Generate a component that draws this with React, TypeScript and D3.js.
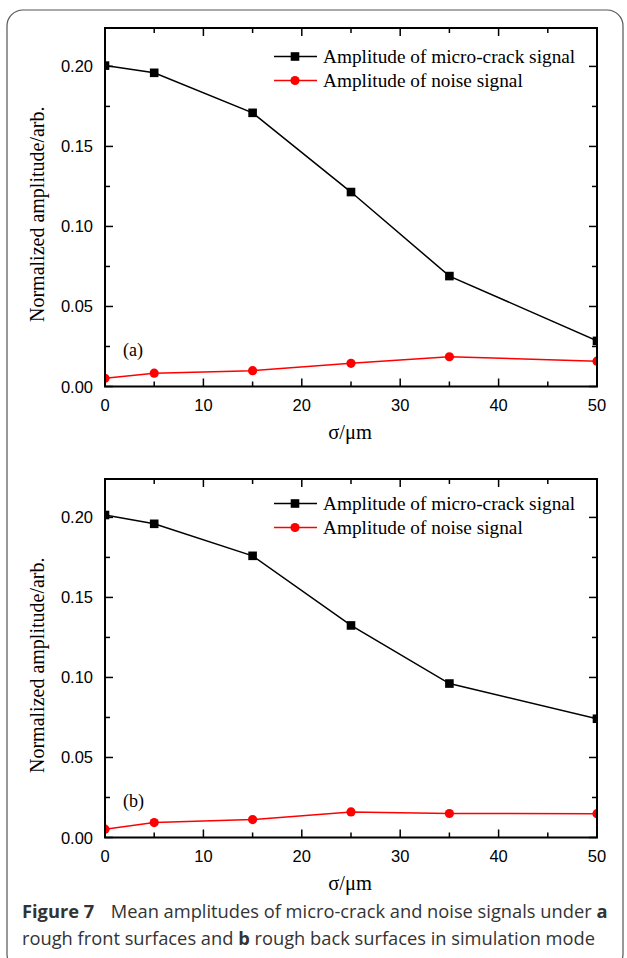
import React from "react";
import * as d3 from "d3";

const sigma = [0, 5, 15, 25, 35, 50];
const crackA = [0.2005, 0.196, 0.171, 0.1215, 0.069, 0.0285];
const noiseA = [0.0051, 0.0083, 0.0099, 0.0145, 0.0186, 0.0158];
const crackB = [0.2015, 0.196, 0.176, 0.1325, 0.0962, 0.0742];
const noiseB = [0.0052, 0.0093, 0.0112, 0.0160, 0.0150, 0.0149];
const xMajor = [0, 10, 20, 30, 40, 50];
const xMinor = [5, 15, 25, 35, 45];
const yMajor = [0, 0.05, 0.1, 0.15, 0.2];
const yMinor = [0.025, 0.075, 0.125, 0.175];
const legendLabels = ["Amplitude of micro-crack signal", "Amplitude of noise signal"];
const panelTags = ["(a)", "(b)"];

const W = 627, H = 958;
const left = 105, right = 597, plotH = 358.5;
const SANS = "'Liberation Sans', Arial, sans-serif";
const SERIF = "'Liberation Serif', 'Times New Roman', serif";
const CAPTION = "'Open Sans', 'Noto Sans', sans-serif";

function Panel({ top, crack, noise, tag, id, legendDy }: any) {
  const x = d3.scaleLinear().domain([0, 50]).range([left, right]);
  const y = d3.scaleLinear().domain([0, 0.224]).range([top + plotH, top]);
  const line = d3.line<number>().x((_, i) => x(sigma[i])).y(d => y(d));
  const bottom = top + plotH;
  return (
    <g>
      <defs>
        <clipPath id={id}>
          <rect x={left} y={top} width={right - left} height={plotH} />
        </clipPath>
      </defs>
      <g clipPath={`url(#${id})`}>
        <path d={line(crack) || ""} fill="none" stroke="#000" strokeWidth={1.5} />
        {crack.map((v: number, i: number) => (
          <rect key={i} x={x(sigma[i]) - 4.3} y={y(v) - 4.3} width={8.6} height={8.6} fill="#000" />
        ))}
        <path d={line(noise) || ""} fill="none" stroke="#ff0000" strokeWidth={1.5} />
        {noise.map((v: number, i: number) => (
          <circle key={i} cx={x(sigma[i])} cy={y(v)} r={4.6} fill="#ff0000" />
        ))}
      </g>
      {xMajor.map(t => (
        <g key={"xM" + t}>
          <line x1={x(t)} x2={x(t)} y1={bottom} y2={bottom - 8} stroke="#000" strokeWidth={1.5} />
          <line x1={x(t)} x2={x(t)} y1={top} y2={top + 8} stroke="#000" strokeWidth={1.5} />
          <text x={x(t)} y={bottom + 24} textAnchor="middle" fontFamily={SANS} fontSize={16.5}>{t}</text>
        </g>
      ))}
      {xMinor.map(t => (
        <g key={"xm" + t}>
          <line x1={x(t)} x2={x(t)} y1={bottom} y2={bottom - 5} stroke="#000" strokeWidth={1.5} />
          <line x1={x(t)} x2={x(t)} y1={top} y2={top + 5} stroke="#000" strokeWidth={1.5} />
        </g>
      ))}
      {yMajor.map(t => (
        <g key={"yM" + t}>
          <line x1={left} x2={left + 8} y1={y(t)} y2={y(t)} stroke="#000" strokeWidth={1.5} />
          <line x1={right} x2={right - 8} y1={y(t)} y2={y(t)} stroke="#000" strokeWidth={1.5} />
          <text x={93} y={y(t) + 6} textAnchor="end" fontFamily={SANS} fontSize={16.5}>{d3.format(".2f")(t)}</text>
        </g>
      ))}
      {yMinor.map(t => (
        <g key={"ym" + t}>
          <line x1={left} x2={left + 5} y1={y(t)} y2={y(t)} stroke="#000" strokeWidth={1.5} />
          <line x1={right} x2={right - 5} y1={y(t)} y2={y(t)} stroke="#000" strokeWidth={1.5} />
        </g>
      ))}
      <rect x={left} y={top} width={right - left} height={plotH} fill="none" stroke="#000" strokeWidth={2} />
      <text x={350} y={bottom + 52} textAnchor="middle" fontFamily={SERIF} fontSize={20.5}>σ/μm</text>
      <text transform={`translate(44,${top + plotH / 2 + 7}) rotate(-90)`} textAnchor="middle" fontFamily={SERIF} fontSize={20}>Normalized amplitude/arb.</text>
      <text x={123} y={y(0.0225) + 6} fontFamily={SERIF} fontSize={18}>{tag}</text>
      {legendLabels.map((lab, i) => {
        const ly = top + legendDy + i * 24;
        return (
          <g key={lab}>
            <line x1={274} x2={317} y1={ly} y2={ly} stroke={i === 0 ? "#000" : "#ff0000"} strokeWidth={1.5} />
            {i === 0 ? (
              <rect x={295 - 4.3} y={ly - 4.3} width={8.6} height={8.6} fill="#000" />
            ) : (
              <circle cx={295} cy={ly} r={4.6} fill="#ff0000" />
            )}
            <text x={323} y={ly + 6} fontFamily={SERIF} fontSize={19.3}>{lab}</text>
          </g>
        );
      })}
    </g>
  );
}

export default function App() {
  return (
    <div style={{ position: "absolute", left: 0, top: 0 }}>
      <svg width={W} height={H} viewBox={`0 0 ${W} ${H}`} style={{ display: "block", background: "#fff" }}>
        <rect x={7} y={10} width={616} height={960} rx={16} ry={16} fill="none" stroke="#555" strokeWidth={1.2} />
        <Panel top={28} crack={crackA} noise={noiseA} tag={panelTags[0]} id="clipA" legendDy={28.5} />
        <Panel top={479} crack={crackB} noise={noiseB} tag={panelTags[1]} id="clipB" legendDy={24.5} />
        <text x={22} y={918} fontFamily={CAPTION} fontSize={18.3} fill="#333">
          <tspan fontWeight="bold">Figure 7</tspan>
          <tspan dx={7}>{"\u00a0\u00a0Mean amplitudes of micro-crack and noise signals under "}</tspan>
          <tspan fontWeight="bold">a</tspan>
        </text>
        <text x={22} y={945} fontFamily={CAPTION} fontSize={18.3} fill="#333">
          <tspan>{"rough front surfaces and "}</tspan>
          <tspan fontWeight="bold">b</tspan>
          <tspan>{" rough back surfaces in simulation mode"}</tspan>
        </text>
      </svg>
    </div>
  );
}
